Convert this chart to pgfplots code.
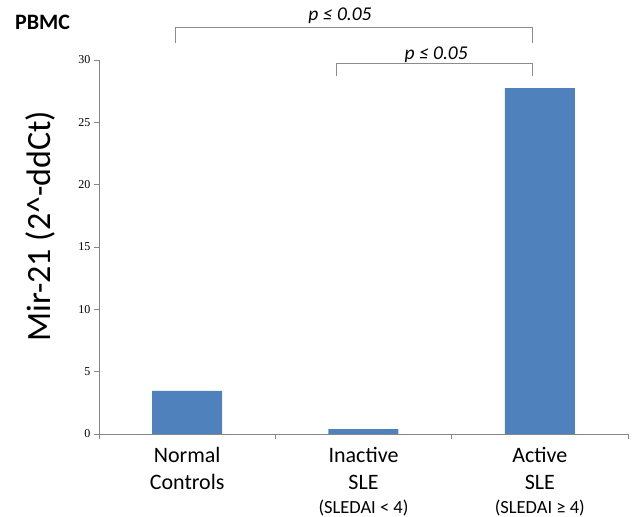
\documentclass[border=0pt]{standalone}
\usepackage{pgfplots}
\pgfplotsset{compat=1.18}
\usepackage{fontspec}
\setmainfont{Carlito}
\newfontfamily\tickfont{Liberation Serif}
\definecolor{barblue}{HTML}{4F81BD}
\definecolor{axgray}{HTML}{868686}
\definecolor{brgray}{HTML}{8C8C8C}
\begin{document}
\begin{tikzpicture}
\begin{axis}[name=ax, scale only axis, width=529pt, height=374pt,
  xmin=-0.5, xmax=2.5, ymin=0, ymax=30, ytick={0,5,...,30},
  axis x line*=bottom, axis y line*=left,
  axis line style={axgray, line width=0.8pt},
  tick align=outside, major tick length=5pt, minor tick length=5pt,
  xtick={0,1,2},
  xticklabels={{Normal\\Controls},{Inactive\\SLE\\[-3pt]{\fontsize{18.5}{21}\selectfont (SLEDAI < 4)}},{Active\\SLE\\[-3pt]{\fontsize{18.5}{21}\selectfont (SLEDAI ≥ 4)}}},
  xticklabel style={align=center, font=\fontsize{22}{27}\selectfont, text=black, yshift=-5pt},
  major x tick style={draw=none},
  minor xtick={-0.5,0.5,1.5,2.5},
  minor x tick style={draw=axgray, line width=0.8pt},
  y tick style={axgray, line width=0.8pt},
  yticklabel style={font=\tickfont\fontsize{12}{14}\selectfont, text=black},
  /pgf/number format/assume math mode=true,
  ylabel={Mir-21 (2\textasciicircum-ddCt)},
  ylabel style={font=\fontsize{34}{38}\selectfont, at={(axis description cs:-0.1115,0.556)}, anchor=center},
  clip=false,
]
\addplot[ybar, bar width=70pt, fill=barblue, draw=none] coordinates {(0,3.45) (1,0.4) (2,27.75)};
\draw[brgray, line width=0.8pt] (axis cs:-0.069,31.4) |- (axis cs:1.956,32.6) -- (axis cs:1.956,31.4);
\draw[brgray, line width=0.8pt] (axis cs:0.844,28.7) |- (axis cs:1.956,29.75) -- (axis cs:1.956,28.7);
\node[anchor=base, font=\fontsize{19.5}{22}\selectfont\itshape] at (axis cs:0.867,33.13) {p ≤ 0.05};
\node[anchor=base, font=\fontsize{19.5}{22}\selectfont\itshape] at (axis cs:1.412,30.0) {p ≤ 0.05};
\end{axis}
\node[anchor=base west, font=\fontsize{22}{24}\selectfont\bfseries, inner sep=0pt] at ([xshift=-84pt, yshift=404pt]ax.south west) {PBMC};
\pgfresetboundingbox
\path[use as bounding box] ([xshift=-99pt, yshift=-83pt]ax.south west) rectangle ++(633pt,517pt);
\end{tikzpicture}
\end{document}
